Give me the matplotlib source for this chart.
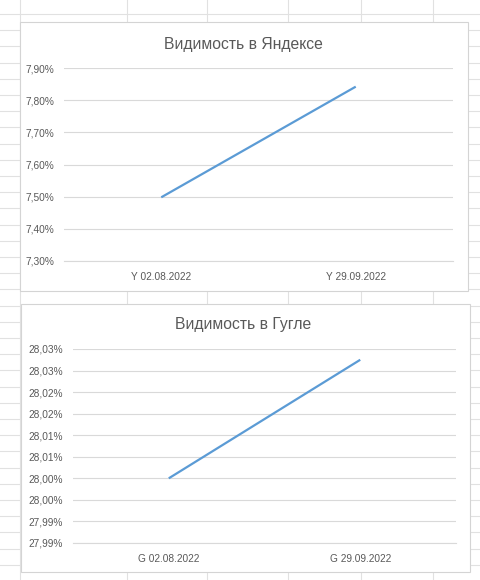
import matplotlib.pyplot as plt
from matplotlib.patches import Rectangle

plt.rcParams['font.family'] = ['Liberation Sans', 'DejaVu Sans']

# данные
yandex_dates = ['Y 02.08.2022', 'Y 29.09.2022']
yandex_vals = [7.498, 7.842]
yandex_ticks = [7.30, 7.40, 7.50, 7.60, 7.70, 7.80, 7.90]
yandex_labels = ['7,30%', '7,40%', '7,50%', '7,60%', '7,70%', '7,80%', '7,90%']

google_dates = ['G 02.08.2022', 'G 29.09.2022']
google_vals = [28.000, 28.0275]
google_ticks = [27.985, 27.990, 27.995, 28.000, 28.005, 28.010, 28.015, 28.020, 28.025, 28.030]
google_labels = ['27,99%', '27,99%', '28,00%', '28,00%', '28,01%', '28,01%',
                 '28,02%', '28,02%', '28,03%', '28,03%']

W, H = 480, 580
fig = plt.figure(figsize=(W/100, H/100), dpi=100)

# фон "листа" Excel
bg = fig.add_axes([0, 0, 1, 1])
bg.set_xlim(0, W)
bg.set_ylim(H, 0)
bg.axis('off')
for x in [20, 127, 207, 288, 361, 433]:
    bg.plot([x, x], [0, H], color='#e1e1e1', lw=0.8, zorder=1)
y = 14
while y < H:
    bg.plot([0, W], [y, y], color='#e1e1e1', lw=0.8, zorder=1)
    y += 16.2

bg.add_patch(Rectangle((20, 22), 448, 269, facecolor='white', edgecolor='#d4d4d4', lw=0.8, zorder=3))
bg.add_patch(Rectangle((21, 304), 449, 268, facecolor='white', edgecolor='#d4d4d4', lw=0.8, zorder=3))
bg.text(243, 44, 'Видимость в Яндексе', ha='center', va='center', fontsize=11.3,
        color='#595959', zorder=4)
bg.text(243, 324, 'Видимость в Гугле', ha='center', va='center', fontsize=11.3,
        color='#595959', zorder=4)


def chart(left, top, right, bottom, dates, vals, ticks, labels, pad):
    ax = fig.add_axes([left/W, (H-bottom)/H, (right-left)/W, (bottom-top)/H])
    ax.set_facecolor('none')
    ax.plot([0, 1], vals, color='#5b9bd5', lw=1.6, solid_capstyle='butt')
    ax.set_xlim(-0.5, 1.5)
    ax.set_ylim(ticks[0], ticks[-1])
    ax.set_yticks(ticks)
    ax.set_yticklabels(labels)
    ax.set_xticks([0, 1])
    ax.set_xticklabels(dates)
    ax.grid(axis='y', color='#d9d9d9', lw=0.8)
    ax.set_axisbelow(True)
    for s in ['top', 'left', 'right']:
        ax.spines[s].set_visible(False)
    ax.spines['bottom'].set_color('#d9d9d9')
    ax.spines['bottom'].set_linewidth(0.8)
    ax.tick_params(axis='both', length=0, labelsize=7.3, labelcolor='#595959')
    ax.tick_params(axis='y', pad=pad)
    ax.tick_params(axis='x', pad=8)
    return ax


chart(64, 68, 453, 261, yandex_dates, yandex_vals, yandex_ticks, yandex_labels, 7)
chart(73, 349, 456, 543, google_dates, google_vals, google_ticks, google_labels, 7)

fig.savefig('out.png', dpi=100)
